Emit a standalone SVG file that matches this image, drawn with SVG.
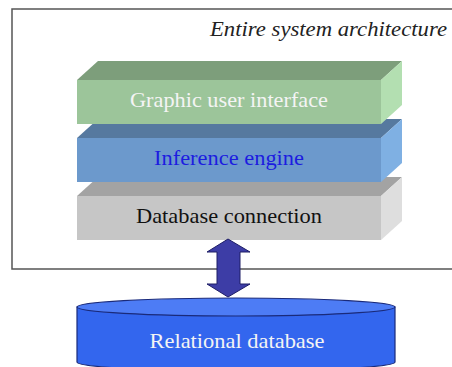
<svg xmlns="http://www.w3.org/2000/svg" width="452" height="367" viewBox="0 0 452 367">
  <style>
    text { font-family: "Liberation Serif", "DejaVu Serif", serif; }
    .lbl { font-size: 21px; text-anchor: middle; }
    .title { font-size: 21px; font-style: italic; fill: #222; text-anchor: end; }
    .frame { fill: none; stroke: #555; stroke-width: 1.5; }
  </style>
  <rect width="452" height="367" fill="#ffffff"/>

  <!-- system boundary (open on the right) -->
  <path class="frame" d="M460 9 H12 V269 H460"/>
  <text class="title" x="447" y="36" textLength="237" lengthAdjust="spacingAndGlyphs">Entire system architecture</text>

  <!-- layer: database connection -->
  <g id="db-connection">
    <polygon points="77,196 98,177 402,177 381,196" fill="#a3a3a3"/>
    <polygon points="381,196 402,177 402,221 381,240" fill="#dedede"/>
    <rect x="77" y="196" width="304" height="44" fill="#c6c6c6"/>
    <text class="lbl" x="229" y="223" fill="#111" textLength="186" lengthAdjust="spacingAndGlyphs">Database connection</text>
  </g>

  <!-- layer: inference engine -->
  <g id="inference-engine">
    <polygon points="77,138 98,119 402,119 381,138" fill="#56799f"/>
    <polygon points="381,138 402,119 402,163 381,182" fill="#7fb0e3"/>
    <rect x="77" y="138" width="304" height="44" fill="#6c99cc"/>
    <text class="lbl" x="229" y="165" fill="#1c1ce0" textLength="150" lengthAdjust="spacingAndGlyphs">Inference engine</text>
  </g>

  <!-- layer: graphic user interface -->
  <g id="gui">
    <polygon points="77,80 98,61 402,61 381,80" fill="#7d9e7b"/>
    <polygon points="381,80 402,61 402,105 381,124" fill="#b3dfb1"/>
    <rect x="77" y="80" width="304" height="44" fill="#9cc59a"/>
    <text class="lbl" x="229" y="107" fill="#f4f4f4" textLength="198" lengthAdjust="spacingAndGlyphs">Graphic user interface</text>
  </g>

  <!-- connectors -->
  <g id="connectors">
    <polygon points="228,239 207,252 217,252 217,284 207,284 228,297 250,284 240,284 240,252 250,252" fill="#3d3da6" stroke="#1e1e66" stroke-width="1"/>
  </g>

  <!-- relational database cylinder -->
  <g id="relational-db">
    <path d="M77,307 L77,362 A159,9 0 0 0 395,362 L395,307 Z" fill="#3366ee" stroke="#1a2a7a" stroke-width="1.2"/>
    <ellipse cx="236" cy="307" rx="159" ry="9" fill="#4d7cf5" stroke="#1a2a7a" stroke-width="1.2"/>
    <text class="lbl" x="237" y="348" fill="#f4f4f4" textLength="175" lengthAdjust="spacingAndGlyphs">Relational database</text>
  </g>
</svg>
